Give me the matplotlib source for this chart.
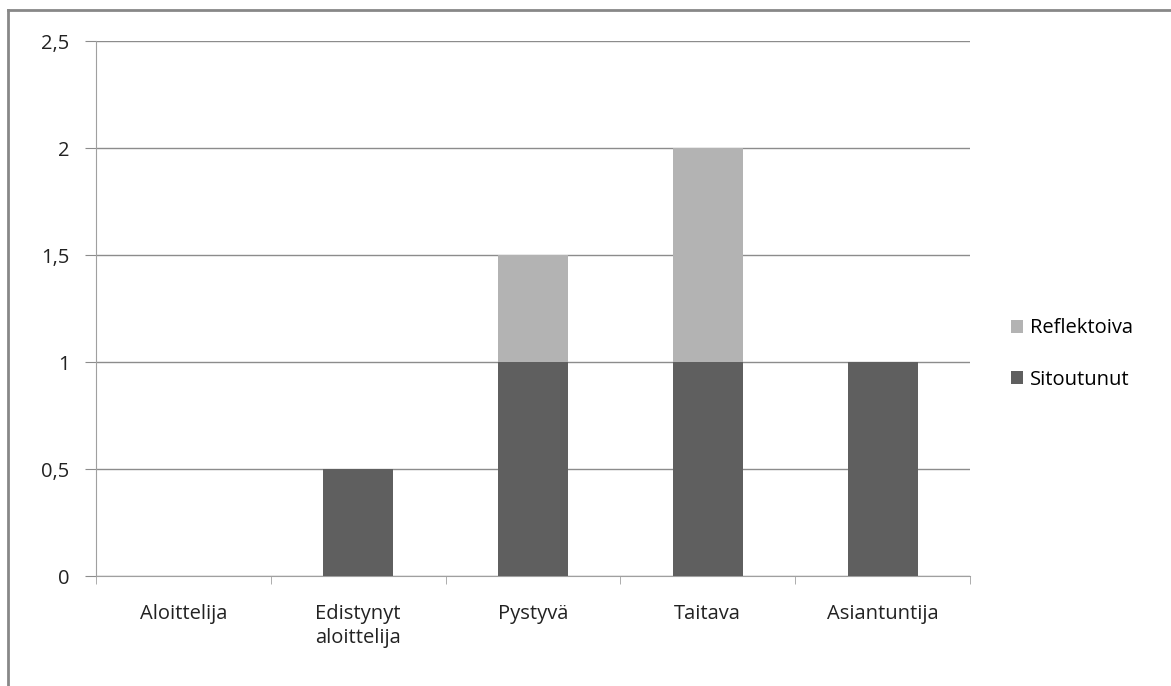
import numpy as np
import matplotlib.pyplot as plt
from matplotlib.lines import Line2D

# Tasot ja arvot
tasot = ["Aloittelija", "Edistynyt\naloittelija", "Pystyvä", "Taitava", "Asiantuntija"]
sitoutunut = [0, 0.5, 1, 1, 1]
reflektoiva = [0, 0, 0.5, 1, 0]
y_ticks = [0, 0.5, 1, 1.5, 2, 2.5]
y_labels = ["0", "0,5", "1", "1,5", "2", "2,5"]

plt.rcParams['font.family'] = ['Open Sans', 'DejaVu Sans']

fig = plt.figure(figsize=(11.71, 6.86), dpi=100)
ax = fig.add_axes([96/1171, 1-576/686, (970-96)/1171, (576-41)/686])

x = np.arange(len(tasot))
w = 0.4
ax.bar(x, sitoutunut, width=w, color="#5f5f5f", label="Sitoutunut", zorder=3)
ax.bar(x, reflektoiva, width=w, bottom=sitoutunut, color="#b3b3b3", label="Reflektoiva", zorder=3)

ax.set_xlim(-0.5, len(tasot)-0.5)
ax.set_ylim(0, 2.5)
ax.set_yticks(y_ticks)
ax.set_yticklabels(y_labels, fontsize=14.5, color="#222222")
ax.set_xticks(x)
ax.set_xticklabels(tasot, fontsize=14.5, color="#222222", va="top", linespacing=1.3)
ax.set_xticks(np.arange(len(tasot)+1)-0.5, minor=True)

ax.grid(axis="y", color="#8c8c8c", linewidth=1, zorder=0)
ax.tick_params(axis="x", which="major", length=0, pad=20)
ax.tick_params(axis="x", which="minor", length=6, color="#a0a0a0", direction="out")
ax.tick_params(axis="y", length=8, color="#8c8c8c", pad=11)

for s in ["top", "right"]:
    ax.spines[s].set_visible(False)
ax.spines["left"].set_color("#a0a0a0")
ax.spines["bottom"].set_color("#a0a0a0")

h, l = ax.get_legend_handles_labels()
ax.legend(h[::-1], l[::-1], loc="center left", bbox_to_anchor=(1.026, 0.415),
          frameon=False, fontsize=14.5, handlelength=0.6, handleheight=0.6,
          handletextpad=0.35, labelspacing=1.55)

# Kehys vasemmalla ja ylhäällä
fig.add_artist(Line2D([8/1171, 8/1171], [0, 1-10/686], color="#888888", linewidth=2))
fig.add_artist(Line2D([8/1171, 1], [1-10/686, 1-10/686], color="#888888", linewidth=2))

fig.savefig("out.png", dpi=100)
